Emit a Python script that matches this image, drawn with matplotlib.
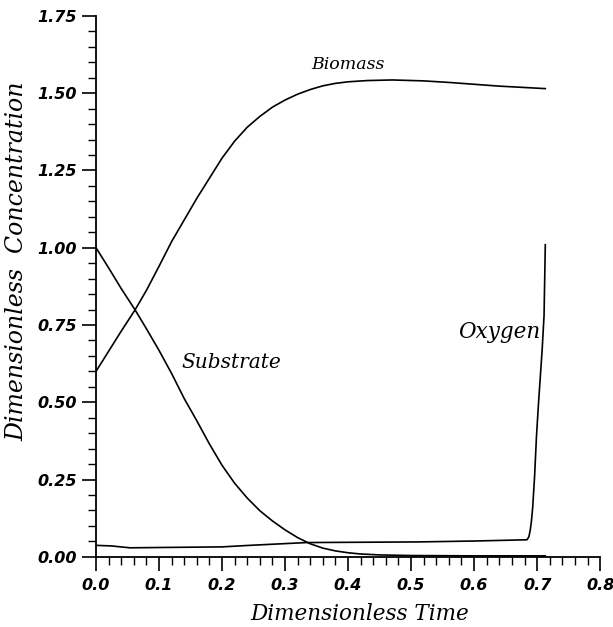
import numpy as np
import matplotlib
matplotlib.use("Agg")
import matplotlib.pyplot as plt
from matplotlib.ticker import MultipleLocator

# values
biomass_t = [0.0, 0.02, 0.04, 0.062, 0.08, 0.1, 0.12, 0.14, 0.16, 0.18, 0.2, 0.22,
             0.24, 0.26, 0.28, 0.30, 0.32, 0.34, 0.36, 0.38, 0.40, 0.43, 0.47, 0.52,
             0.56, 0.64, 0.713]
biomass_v = [0.60, 0.665, 0.73, 0.799, 0.862, 0.94, 1.02, 1.09, 1.16, 1.225, 1.29, 1.345,
             1.39, 1.425, 1.455, 1.478, 1.497, 1.512, 1.524, 1.532, 1.537, 1.541, 1.543, 1.540,
             1.535, 1.523, 1.515]

substrate_t = [0.0, 0.02, 0.04, 0.062, 0.08, 0.1, 0.12, 0.14, 0.16, 0.18, 0.2, 0.22,
               0.24, 0.26, 0.28, 0.30, 0.32, 0.34, 0.36, 0.38, 0.40, 0.42, 0.45, 0.5,
               0.6, 0.713]
substrate_v = [1.0, 0.935, 0.868, 0.799, 0.738, 0.668, 0.593, 0.512, 0.44, 0.365, 0.296, 0.238,
               0.19, 0.149, 0.116, 0.087, 0.062, 0.042, 0.028, 0.019, 0.013, 0.009, 0.006, 0.004,
               0.003, 0.003]

oxygen_t = [0.0, 0.025, 0.054, 0.1, 0.2, 0.244, 0.334, 0.42, 0.509, 0.6, 0.684,
            0.687, 0.689, 0.691, 0.693, 0.696, 0.699, 0.702, 0.705, 0.708, 0.711, 0.713]
oxygen_v = [0.037, 0.035, 0.029, 0.030, 0.032, 0.037, 0.046, 0.047, 0.048, 0.051, 0.055,
            0.065, 0.085, 0.115, 0.16, 0.26, 0.39, 0.49, 0.58, 0.67, 0.78, 1.01]

fig = plt.figure(figsize=(6.13, 6.27), dpi=100)
ax = fig.add_axes([0.1566, 0.112, 0.8224, 0.8625])

lw = 1.2
ax.plot(biomass_t, biomass_v, color="black", lw=lw)
ax.plot(substrate_t, substrate_v, color="black", lw=lw)
ax.plot(oxygen_t, oxygen_v, color="black", lw=lw)

lab = dict(family="DejaVu Serif", style="italic", color="black")
ax.text(0.40, 1.593, "Biomass", ha="center", va="center", fontsize=12.5, **lab)
ax.text(0.215, 0.63, "Substrate", ha="center", va="center", fontsize=14.5, **lab)
ax.text(0.705, 0.728, "Oxygen", ha="right", va="center", fontsize=15.5, **lab)

ax.set_xlim(0, 0.8)
ax.set_ylim(0, 1.75)
ax.xaxis.set_major_locator(MultipleLocator(0.1))
ax.xaxis.set_minor_locator(MultipleLocator(0.02))
ax.yaxis.set_major_locator(MultipleLocator(0.25))
ax.yaxis.set_minor_locator(MultipleLocator(0.05))
ax.xaxis.set_major_formatter(plt.FuncFormatter(lambda v, p: f"{v:.1f}"))
ax.yaxis.set_major_formatter(plt.FuncFormatter(lambda v, p: f"{v:.2f}"))

for s in ["top", "right"]:
    ax.spines[s].set_visible(False)
for s in ["left", "bottom"]:
    ax.spines[s].set_linewidth(1.3)

ax.tick_params(axis="both", which="major", length=10, width=1.2, direction="out")
ax.tick_params(axis="both", which="minor", length=6, width=1.0, direction="out")
ax.tick_params(axis="x", which="major", pad=5)
for t in ax.get_xticklabels() + ax.get_yticklabels():
    t.set_family("DejaVu Sans")
    t.set_style("oblique")
    t.set_weight("bold")
    t.set_fontsize(11.5)

ax.set_xlabel("Dimensionless Time", family="DejaVu Serif", style="italic", fontsize=15.5)
ax.xaxis.set_label_coords(0.524, -0.085)
ax.set_ylabel("Dimensionless  Concentration", family="DejaVu Serif", style="italic", fontsize=17)
ax.yaxis.set_label_coords(-0.135, 0.547)

fig.savefig("out.png", dpi=100, facecolor="white")
